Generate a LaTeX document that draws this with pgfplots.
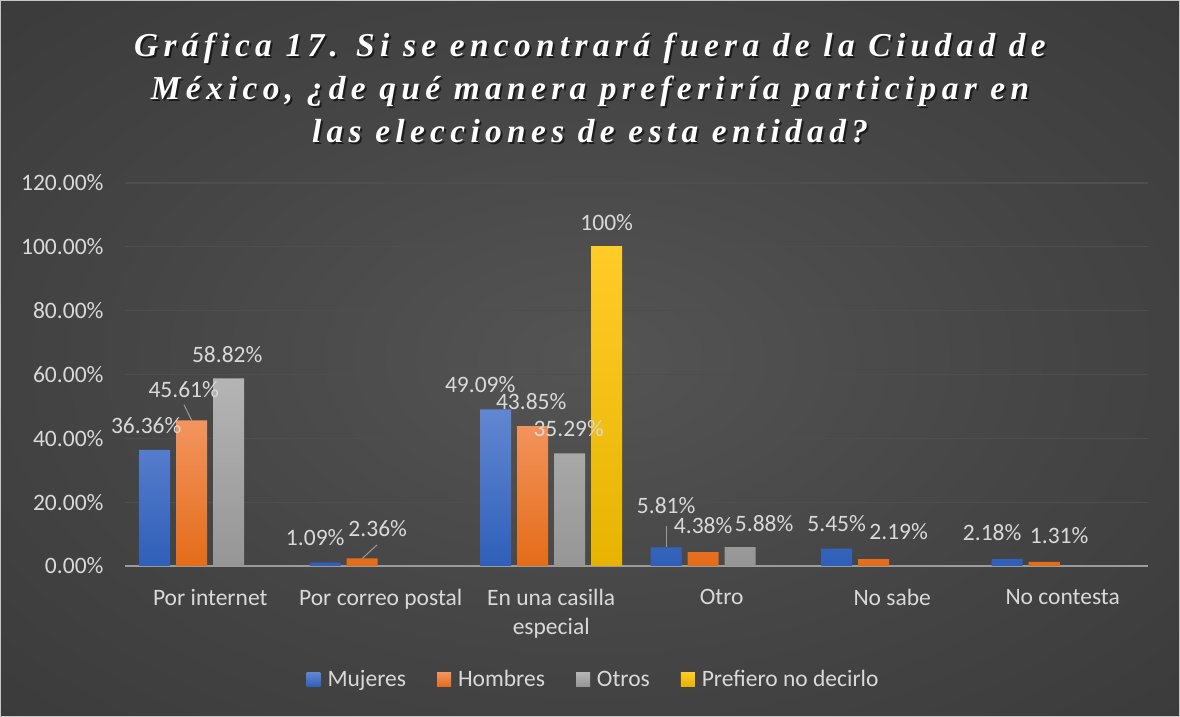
\documentclass[border=0pt]{standalone}
\usepackage{pgfplots}
\usepackage{pgfplotstable}
\pgfplotsset{compat=1.18}
\usepackage{fontspec}
\setmainfont{Carlito}
\newfontfamily\titlefont[LetterSpace=16]{Liberation Serif}

\definecolor{txt}{RGB}{217,217,217}
\definecolor{gridc}{RGB}{78,78,78}
\definecolor{axisc}{RGB}{155,155,155}
\definecolor{bluetop}{RGB}{98,135,210}
\definecolor{bluebot}{RGB}{47,95,185}
\definecolor{orgtop}{RGB}{243,148,95}
\definecolor{orgbot}{RGB}{228,108,25}
\definecolor{graytop}{RGB}{180,180,180}
\definecolor{graybot}{RGB}{150,150,150}
\definecolor{yeltop}{RGB}{255,204,40}
\definecolor{yelbot}{RGB}{230,180,0}

\pgfdeclareradialshading{bgshade}{\pgfpoint{0bp}{0bp}}{%
  rgb(0bp)=(0.33,0.33,0.33); rgb(20bp)=(0.27,0.27,0.27); rgb(72bp)=(0.14,0.14,0.14)}

% x, value, label shift (dx, dy) in bp
\pgfplotstableread{
x y dx dy
0 36.36 -8.5 24
1 1.09 -10 24.5
2 49.09 -15.5 25
3 5.81 0 42
4 5.45 0 25
5 2.18 -15 26
}\mujeres
\pgfplotstableread{
x y dx dy
0 45.61 -8 31
1 2.36 15.5 29.5
2 43.85 -1.5 24
3 4.38 0 26
4 2.19 25 27
5 1.31 15 26.5
}\hombres
\pgfplotstableread{
x y dx dy
0 58.82 -1.5 24
2 35.29 -1 25
3 5.88 24 23.5
}\otros
\pgfplotstableread{
x y dx dy
2 100 0 24
}\prefiero

\begin{document}
\begin{tikzpicture}
\useasboundingbox (0,0) rectangle (1180bp,717bp);
\shade[shading=bgshade] (0,0) rectangle (1180bp,717bp);
\draw[gray!45, line width=1.2bp] (0.6bp,0.6bp) rectangle (1179.4bp,716.4bp);

\node[text=black, opacity=0.6, align=center, font=\titlefont\fontsize{33.5}{43}\selectfont\bfseries\itshape]
  at (592bp,627bp) {Gráfica 17. Si se encontrará fuera de la Ciudad de\\México, ¿de qué manera preferiría participar en\\las elecciones de esta entidad?};
\node[text=white, align=center, font=\titlefont\fontsize{33.5}{43}\selectfont\bfseries\itshape]
  at (590bp,629bp) {Gráfica 17. Si se encontrará fuera de la Ciudad de\\México, ¿de qué manera preferiría participar en\\las elecciones de esta entidad?};

\begin{axis}[
  at={(125bp,151bp)}, anchor=south west,
  scale only axis, width=1023bp, height=383bp,
  xmin=-0.5, xmax=5.5, ymin=0, ymax=120,
  ybar=6bp, bar width=31bp,
  axis x line*=bottom, axis y line*=left,
  x axis line style={draw=axisc, line width=1.6bp},
  y axis line style={draw=none},
  major tick length=0pt,
  xtick={0,...,5},
  xticklabels={Por internet, Por correo postal, {En una casilla\\especial}, Otro, No sabe, No contesta},
  xticklabel style={align=center, text=txt, font=\fontsize{23.6}{29}\selectfont, yshift=-20bp},
  ytick={0,20,...,120},
  yticklabel={\pgfmathprintnumber[fixed,fixed zerofill,precision=2]{\tick}\%},
  yticklabel style={text=txt, font=\fontsize{23.6}{29}\selectfont, xshift=-18bp},
  /pgf/number format/assume math mode=true,
  ymajorgrids, grid style={draw=gridc, line width=1.2bp},
  nodes near coords={\pgfmathprintnumber[fixed,precision=2]{\pgfplotspointmeta}\%},
  point meta=explicit,
  every node near coord/.append style={text=txt, font=\fontsize{23.6}{29}\selectfont,
    anchor=center, inner sep=0pt, xshift=\dx bp, yshift=\dy bp},
  visualization depends on={\thisrow{dx} \as \dx},
  visualization depends on={\thisrow{dy} \as \dy},
  legend columns=4,
  legend style={draw=none, fill=none, text=txt, font=\fontsize{23.6}{29}\selectfont,
    at={(0.458,-0.296)}, anchor=center,
    /tikz/every odd column/.append style={column sep=5bp},
    /tikz/every even column/.append style={column sep=29bp}},
  legend image code/.code={\fill[#1] (0bp,-7bp) rectangle (14bp,7bp);},
  clip=false,
]
\addplot[draw=none, top color=bluetop, bottom color=bluebot] table[x=x, y=y, meta expr=\thisrow{y}] {\mujeres};
\addplot[draw=none, top color=orgtop, bottom color=orgbot] table[x=x, y=y, meta expr=\thisrow{y}] {\hombres};
\addplot[draw=none, top color=graytop, bottom color=graybot] table[x=x, y=y, meta expr=\thisrow{y}] {\otros};
\addplot[draw=none, top color=yeltop, bottom color=yelbot,
  nodes near coords={\pgfmathprintnumber[fixed,precision=0]{\pgfplotspointmeta}\%}] table[x=x, y=y, meta expr=\thisrow{y}] {\prefiero};
\legend{Mujeres, Hombres, Otros, Prefiero no decirlo}
% leader lines of moved labels
\draw[axisc, line width=1bp] (axis cs:-0.154,50.5) -- (axis cs:-0.1085,45.61);
\draw[axisc, line width=1bp] (axis cs:0.978,6.6) -- (axis cs:0.8915,2.36);
\draw[axisc, line width=1bp] (axis cs:2.6745,12.6) -- (axis cs:2.6745,5.81);
\end{axis}
\end{tikzpicture}
\end{document}
